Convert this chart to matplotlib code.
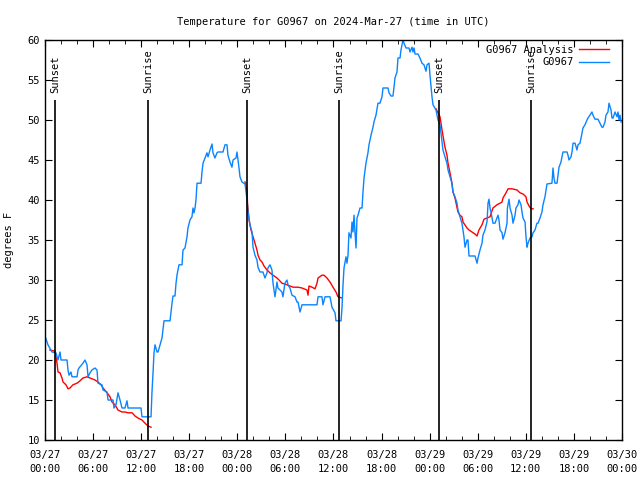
import matplotlib
matplotlib.use("Agg")
import matplotlib.pyplot as plt
import matplotlib.dates as mdates
import pandas as pd

plt.rcParams['font.family'] = ['DejaVu Sans Mono']
plt.rcParams['font.size'] = 7

inicio = pd.Timestamp('2024-03-27 00:00')

# observed temperature (hours after 03/27 00:00 UTC, degrees F)
obs_horas = [0.0, 0.37, 0.87, 1.37, 1.62, 1.87, 2.0, 2.75, 2.87, 3.0, 3.24, 3.37, 4.0, 4.12, 4.24,
             4.74, 4.99, 5.24, 5.37, 5.62, 5.86, 6.24, 6.49, 6.61, 7.11, 7.24, 7.74, 7.86, 8.49,
             8.61, 8.86, 9.11, 9.36, 9.61, 9.98, 10.23, 10.36, 11.98, 12.1, 13.23, 13.35, 13.48,
             13.6, 13.73, 13.98, 14.1, 14.35, 14.6, 14.85, 15.6, 15.85, 15.97, 16.22, 16.35,
             16.47, 16.72, 17.1, 17.22, 17.47, 17.72, 17.84, 18.09, 18.34, 18.47, 18.59, 18.72,
             18.84, 18.97, 19.47, 19.59, 19.72, 19.96, 20.21, 20.34, 20.59, 20.84, 20.96, 21.21,
             21.46, 21.59, 22.21, 22.46, 22.71, 22.83, 23.08, 23.33, 23.46, 23.83, 23.96, 24.21,
             24.33, 24.58, 24.96, 25.21, 25.33, 25.58, 25.83, 25.96, 26.2, 26.45, 26.58, 26.83,
             27.2, 27.45, 27.7, 27.82, 28.07, 28.32, 28.45, 28.7, 28.95, 29.07, 29.32, 29.57,
             29.69, 29.94, 30.19, 30.32, 30.57, 30.82, 31.2, 31.44, 31.57, 31.82, 32.07, 33.94,
             34.07, 34.56, 34.69, 34.94, 35.56, 35.81, 36.19, 36.31, 36.94, 37.06, 37.19, 37.31,
             37.56, 37.68, 37.81, 37.93, 38.18, 38.31, 38.43, 38.56, 38.68, 38.81, 38.93, 39.06,
             39.31, 39.56, 39.68, 39.81, 40.05, 40.3, 40.43, 40.68, 40.93, 41.05, 41.3, 41.55,
             41.8, 42.05, 42.18, 42.8, 42.93, 43.17, 43.42, 43.55, 43.67, 43.92, 44.05, 44.3,
             44.42, 44.67, 44.8, 45.05, 45.42, 45.55, 45.8, 45.92, 46.05, 46.17, 46.54, 46.79,
             47.04, 47.29, 47.54, 47.67, 47.92, 48.04, 48.29, 48.42, 48.79, 49.04, 49.29, 49.66,
             49.91, 50.16, 50.29, 50.54, 50.78, 50.91, 51.16, 51.41, 51.53, 51.78, 52.03, 52.16,
             52.28, 52.41, 52.66, 52.78, 52.91, 53.66, 53.91, 54.03, 54.28, 54.53, 54.65, 54.9,
             55.15, 55.2, 55.28, 55.4, 55.53, 55.65, 55.9, 56.15, 56.4, 56.53, 56.65, 56.78,
             57.03, 57.15, 57.4, 57.65, 57.7, 57.9, 58.03, 58.28, 58.4, 58.65, 58.77, 59.02,
             59.15, 59.4, 59.52, 59.65, 59.9, 60.02, 60.15, 60.27, 60.52, 60.77, 60.9, 61.14,
             61.39, 61.52, 61.77, 62.01, 62.14, 62.39, 62.64, 63.26, 63.39, 63.51, 63.64, 63.89,
             64.01, 64.14, 64.39, 64.51, 64.64, 65.14, 65.26, 65.39, 65.64, 65.76, 65.89, 66.14,
             66.38, 66.51, 66.76, 67.01, 67.13, 67.38, 67.63, 67.76, 68.0, 68.25, 68.38, 68.63,
             69.0, 69.25, 69.5, 69.63, 69.88, 70.0, 70.25, 70.38, 70.63, 70.75, 70.88, 71.13,
             71.38, 71.5, 71.63, 71.75, 71.88]
obs_temp = [23.0, 21.9, 21.0, 20.9, 20.0, 21.0, 20.0, 20.0, 18.75, 18.1, 18.5, 17.9, 17.9, 18.75, 19.0,
            19.6, 20.0, 19.4, 17.9, 18.4, 18.75, 19.0, 18.75, 17.1, 16.9, 16.25, 16.0, 15.0, 15.0,
            14.0, 14.4, 15.9, 15.0, 14.0, 14.0, 14.9, 14.0, 14.0, 12.9, 12.9, 16.0, 18.4,
            20.9, 21.9, 21.0, 21.0, 21.9, 22.75, 24.9, 24.9, 27.1, 28.0, 28.0, 29.6,
            30.6, 31.9, 31.9, 33.75, 34.0, 35.4, 36.5, 37.5, 37.9, 39.0, 38.4, 39.0,
            40.0, 42.1, 42.1, 43.5, 44.6, 45.25, 45.9, 45.4, 46.25, 47.0, 45.9, 45.25,
            45.9, 46.0, 46.0, 46.9, 46.9, 45.6, 44.75, 44.1, 45.0, 45.25, 46.0, 44.0,
            42.9, 42.25, 42.0, 40.0, 38.5, 36.9, 36.0, 34.1, 33.1, 32.5, 31.6, 31.0,
            31.0, 30.25, 30.9, 31.5, 31.9, 31.25, 29.6, 27.9, 29.75, 29.0, 28.75, 28.5,
            27.9, 29.6, 30.0, 29.4, 29.0, 28.1, 27.9, 27.25, 27.25, 26.0, 26.9, 26.9,
            27.9, 27.9, 26.9, 27.9, 27.9, 26.6, 25.9, 24.9, 24.9, 26.5, 29.4, 31.5,
            32.9, 32.1, 33.1, 35.9, 35.25, 37.25, 36.0, 38.1, 36.0, 34.0, 37.75, 38.1,
            39.0, 39.0, 41.0, 42.75, 44.6, 45.9, 46.9, 48.1, 49.1, 49.75, 50.6, 52.1,
            52.1, 52.9, 54.0, 54.0, 53.4, 53.0, 53.0, 54.1, 55.25, 56.0, 57.75, 57.75,
            58.75, 60.0, 59.6, 59.0, 59.0, 58.5, 59.1, 58.5, 59.0, 58.25, 58.25, 57.75,
            57.1, 56.9, 56.1, 56.9, 57.1, 55.6, 52.9, 51.9, 51.25, 50.0, 49.4, 46.25,
            45.4, 44.6, 43.75, 42.9, 42.1, 41.0, 40.4, 39.6, 38.75, 37.9, 37.1, 36.25,
            35.4, 34.1, 35.0, 35.0, 33.0, 33.0, 32.1, 32.75, 33.75, 34.6, 35.6, 36.25,
            37.25, 38.0, 39.6, 40.1, 39.0, 38.5, 37.1, 37.1, 37.75, 38.1, 37.5, 36.25,
            35.9, 35.1, 35.9, 37.1, 39.0, 40.1, 39.0, 38.1, 37.1, 38.1, 39.0, 39.4,
            40.0, 39.4, 38.5, 37.75, 37.25, 35.4, 34.1, 34.6, 35.25, 35.4, 35.9, 36.25,
            37.1, 37.1, 37.75, 38.5, 39.4, 40.4, 42.0, 42.1, 44.0, 42.75, 42.1, 42.1,
            43.1, 44.1, 44.75, 45.4, 46.0, 46.0, 45.6, 45.0, 45.4, 46.0, 47.1, 47.1,
            46.25, 46.9, 47.1, 48.4, 49.0, 49.4, 50.0, 50.25, 50.6, 51.0, 50.6, 50.1,
            50.1, 49.6, 49.1, 49.1, 49.75, 50.6, 51.0, 52.1, 51.25, 50.25, 50.25, 51.0,
            50.4, 51.0, 50.0, 50.6, 49.75]

# analysis, one piece per night
ana1_horas = [0.62, 1.25, 1.5, 1.62, 1.87, 2.12, 2.25, 2.62, 2.87, 3.12, 3.49, 3.99, 4.37, 4.74,
              5.24, 5.62, 5.99, 6.24, 6.61, 6.99, 7.24, 7.74, 8.11, 8.36, 8.73, 9.11, 9.61,
              9.98, 10.36, 10.86, 11.23, 11.6, 12.1, 12.48, 12.85, 13.23]
ana1_temp = [21.25, 21.1, 19.6, 18.5, 18.4, 17.75, 17.25, 16.9, 16.4, 16.5, 16.9, 17.1, 17.4, 17.75,
             17.9, 17.75, 17.6, 17.5, 17.25, 16.9, 16.5, 15.9, 15.4, 14.75, 14.4, 13.75, 13.5,
             13.5, 13.4, 13.4, 13.0, 12.75, 12.5, 12.1, 11.75, 11.6]
ana2_horas = [24.96, 25.21, 25.27, 25.46, 25.71, 25.96, 26.2, 26.45, 26.58, 26.83, 27.08, 27.33,
              27.7, 28.07, 28.45, 28.95, 29.2, 29.57, 30.19, 30.57, 30.95, 31.57, 32.07, 32.69,
              32.82, 32.94, 33.32, 33.69, 33.94, 34.07, 34.56, 34.81, 35.19, 35.56, 35.94,
              36.31, 36.56, 37.06]
ana2_temp = [42.25, 41.25, 39.6, 37.5, 36.25, 35.4, 34.6, 33.75, 33.1, 32.5, 32.25, 31.75,
             31.25, 30.9, 30.6, 30.25, 30.0, 29.6, 29.4, 29.25, 29.1, 29.1, 29.0, 28.75,
             28.1, 29.25, 29.1, 28.9, 29.6, 30.25, 30.6, 30.6, 30.25, 29.75, 29.1,
             28.5, 27.9, 27.75]
ana3_horas = [48.79, 49.29, 49.54, 49.91, 50.16, 50.29, 50.54, 50.78, 50.91, 51.16, 51.53, 51.78,
              52.03, 52.16, 52.66, 52.91, 53.28, 53.66, 53.91, 54.15, 54.53, 54.78, 55.15, 55.53,
              55.9, 56.4, 56.78, 57.03, 57.15, 57.53, 57.78, 58.28, 58.9, 59.27, 59.65, 60.02,
              60.15, 60.4, 60.65, 60.9]
ana3_temp = [51.4, 50.4, 48.75, 46.6, 45.6, 44.6, 43.4, 42.1, 41.0, 40.25, 38.5, 38.1,
             37.9, 37.25, 36.5, 36.25, 36.0, 35.75, 35.5, 36.25, 36.9, 37.6, 37.75, 37.9,
             39.0, 39.4, 39.6, 39.75, 40.25, 40.9, 41.4, 41.4, 41.25, 40.9, 40.75, 40.4,
             39.75, 39.25, 38.9, 38.9]

sol_horas = [1.3, 12.88, 25.22, 36.72, 49.2, 60.68]
sol_nomes = ['Sunset', 'Sunrise', 'Sunset', 'Sunrise', 'Sunset', 'Sunrise']


def tempo(horas):
    return inicio + pd.to_timedelta(horas, unit='h')


vermelho = '#ff0000'
azul = '#0a84ff'

fig = plt.figure(figsize=(6.4, 4.8), dpi=100)
ax = fig.add_axes([45 / 640, 40 / 480, 577 / 640, 400 / 480])

l1, = ax.plot(tempo(ana1_horas), ana1_temp, color=vermelho, lw=1.0, label='G0967 Analysis')
ax.plot(tempo(ana2_horas), ana2_temp, color=vermelho, lw=1.0)
ax.plot(tempo(ana3_horas), ana3_temp, color=vermelho, lw=1.0)
l2, = ax.plot(tempo(obs_horas), obs_temp, color=azul, lw=1.0, label='G0967')

for h, nome in zip(sol_horas, sol_nomes):
    t = tempo(h)
    ax.vlines(t, 10, 52.5, color='black', lw=1.2)
    ax.text(t, 53.4, nome, rotation=90, ha='center', va='bottom', fontsize=7.5)

ax.set_xlim(inicio, inicio + pd.Timedelta(hours=72))
ax.set_ylim(10, 60)
ax.set_yticks(range(10, 61, 5))
ax.xaxis.set_major_locator(mdates.HourLocator(byhour=[0, 6, 12, 18]))
ax.xaxis.set_minor_locator(mdates.HourLocator(byhour=range(0, 24, 2)))
ax.xaxis.set_major_formatter(mdates.DateFormatter('%m/%d\n%H:%M'))
ax.tick_params(direction='in', top=True, right=True, which='both', labelsize=7.5)
ax.tick_params(which='major', length=5)
ax.tick_params(which='minor', length=3)
ax.tick_params(axis='x', which='major', pad=7)
for rot in ax.get_xticklabels():
    rot.set_linespacing(1.5)
for s in ax.spines.values():
    s.set_linewidth(1.0)

ax.set_ylabel('degrees F', fontsize=7.5, labelpad=10)
ax.set_title('Temperature for G0967 on 2024-Mar-27 (time in UTC)', fontsize=7.5, pad=11)

leg = ax.legend(handles=[l1, l2], loc='upper right', bbox_to_anchor=(0.9895, 1.006),
                frameon=False, markerfirst=False, fontsize=7.5, handlelength=2.8,
                handletextpad=0.58, borderaxespad=0.3, labelspacing=0.25)
for coluna in leg._legend_box._children[-1]._children:
    coluna.align = 'right'

fig.savefig('out.png', dpi=100)
